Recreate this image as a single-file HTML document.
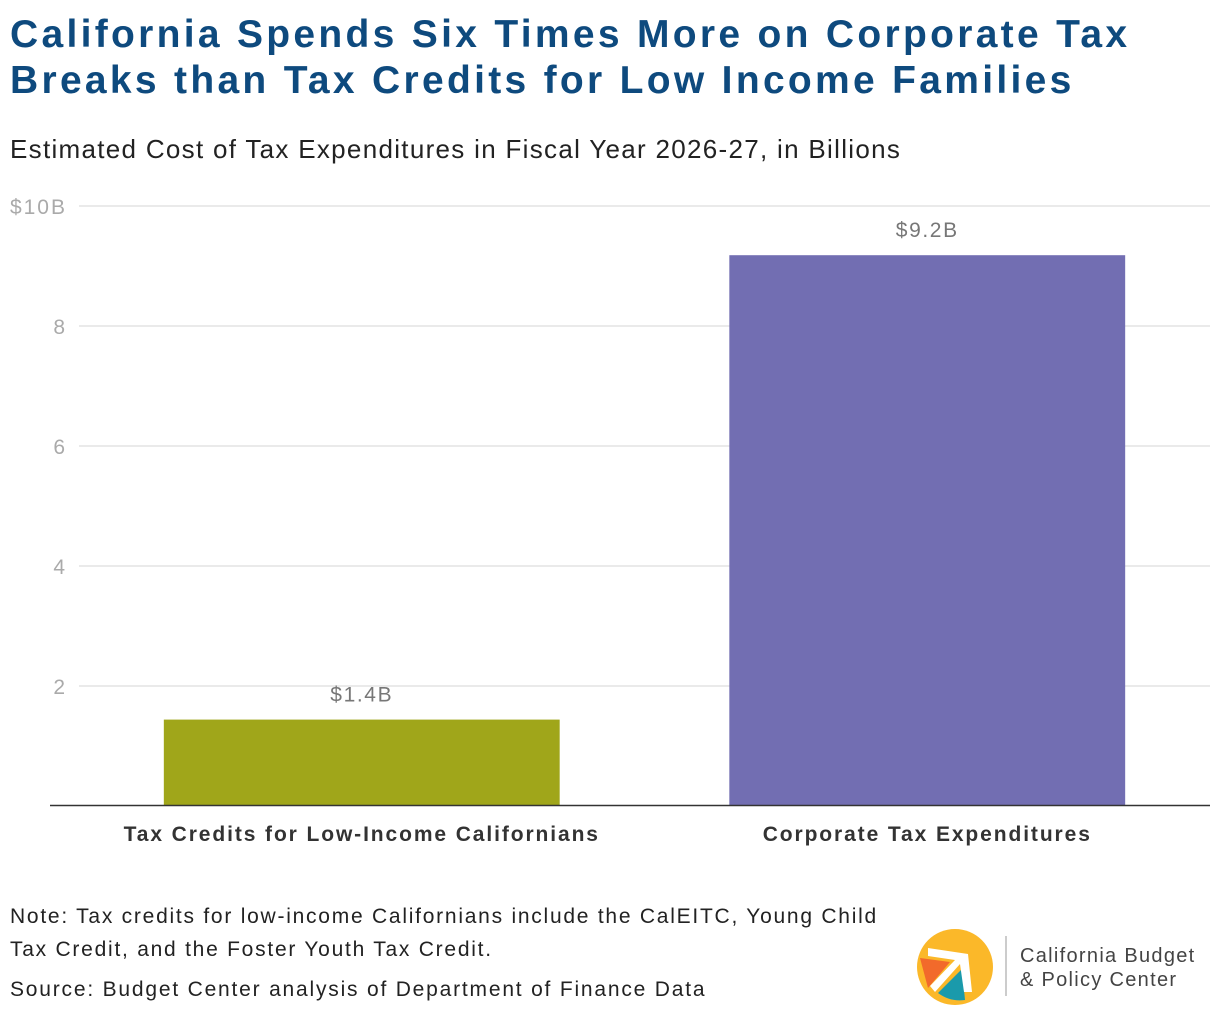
<!DOCTYPE html>
<html><head><meta charset="utf-8"><style>
body{margin:0;background:#fff;width:1220px;height:1020px;overflow:hidden;font-family:"Liberation Sans",sans-serif;}
#title{position:absolute;left:10px;top:12px;margin:0;font-size:39px;line-height:46px;font-weight:bold;color:#0e4a7e;letter-spacing:3.3px;white-space:nowrap}
#sub{position:absolute;left:10px;top:134px;font-size:26px;color:#222;letter-spacing:1.3px;white-space:nowrap}
#note{position:absolute;left:10px;top:900px;font-size:21px;line-height:33px;color:#222;letter-spacing:1.75px;white-space:nowrap}
#src{position:absolute;left:10px;top:978px;font-size:21px;color:#222;letter-spacing:1.8px;white-space:nowrap}
svg{position:absolute;left:0;top:0}
</style></head><body>
<h1 id="title">California Spends Six Times More on Corporate Tax<br>Breaks than Tax Credits for Low Income Families</h1>
<div id="sub">Estimated Cost of Tax Expenditures in Fiscal Year 2026-27, in Billions</div>
<svg id="chart" width="1220" height="1020"></svg>
<div id="note">Note: Tax credits for low-income Californians include the CalEITC, Young Child<br>Tax Credit, and the Foster Youth Tax Credit.</div>
<div id="src">Source: Budget Center analysis of Department of Finance Data</div>
<svg width="310" height="90" style="left:900px;top:920px">
<circle cx="55" cy="47" r="38" fill="#fbb829"/>
<path d="M20,38 L50,42 L28,68 Z" fill="#f26a2b"/>
<path d="M38,73 L62,49 L65,80 Q50,82 38,73 Z" fill="#1a9aab"/>
<path d="M28,28 L68,34 L72,72 L64,72 L60,44 L35,72 L30,66 L55,40 L28,36 Z" fill="#fff"/>
<line x1="106" y1="16" x2="106" y2="76" stroke="#bbb" stroke-width="1.5"/>
<text x="120" y="42" font-size="20" fill="#444" letter-spacing="1.3" font-family="Liberation Sans, sans-serif">California Budget</text>
<text x="120" y="66" font-size="20" fill="#444" letter-spacing="1.3" font-family="Liberation Sans, sans-serif">&amp; Policy Center</text>
</svg>
<script>
const categories=["Tax Credits for Low-Income Californians","Corporate Tax Expenditures"];
const values=[1.44,9.18];
const valueLabels=["$1.4B","$9.2B"];
const tickValues=[2,4,6,8,10];
const tickLabels=["2","4","6","8","$10B"];
const colors=["#a0a61a","#726eb2"];
const svg=document.getElementById('chart');const NS='http://www.w3.org/2000/svg';
const x0=79,x1=1210,yTop=206,yBase=806,yMax=10;
const y=v=>yBase-(v/yMax)*(yBase-yTop);
const band=(x1-x0)/categories.length;
const xc=i=>x0+band*(i+0.5);
function mk(t,a){const e=document.createElementNS(NS,t);for(const k in a)e.setAttribute(k,a[k]);svg.appendChild(e);return e;}
tickValues.forEach((v,i)=>{
 const l=mk('line',{x1:x0,x2:x1,y1:y(v),y2:y(v),stroke:'#e3e3e3','stroke-width':1.5});
 
 
 const t=mk('text',{x:67,y:y(v)+8,'text-anchor':'end','font-size':21,fill:'#aaa','letter-spacing':2});t.textContent=tickLabels[i];
 
 
});
const bw=band*0.7;
categories.forEach((c,i)=>{
 const r=mk('rect',{x:xc(i)-bw/2,y:y(values[i]),width:bw,height:yBase-y(values[i]),fill:colors[i]});
 
 
 const vl=mk('text',{x:xc(i),y:y(values[i])-18,'text-anchor':'middle','font-size':21,fill:'#777','letter-spacing':1.6});vl.textContent=valueLabels[i];
 
 
 const cl=mk('text',{x:xc(i),y:841,'text-anchor':'middle','font-size':21,'font-weight':'bold',fill:'#333','letter-spacing':1.9});cl.textContent=c;
 
 
});
const b=mk('line',{x1:50,x2:x1,y1:yBase-0.5,y2:yBase-0.5,stroke:'#333','stroke-width':1.5});


</script>
</body></html>
